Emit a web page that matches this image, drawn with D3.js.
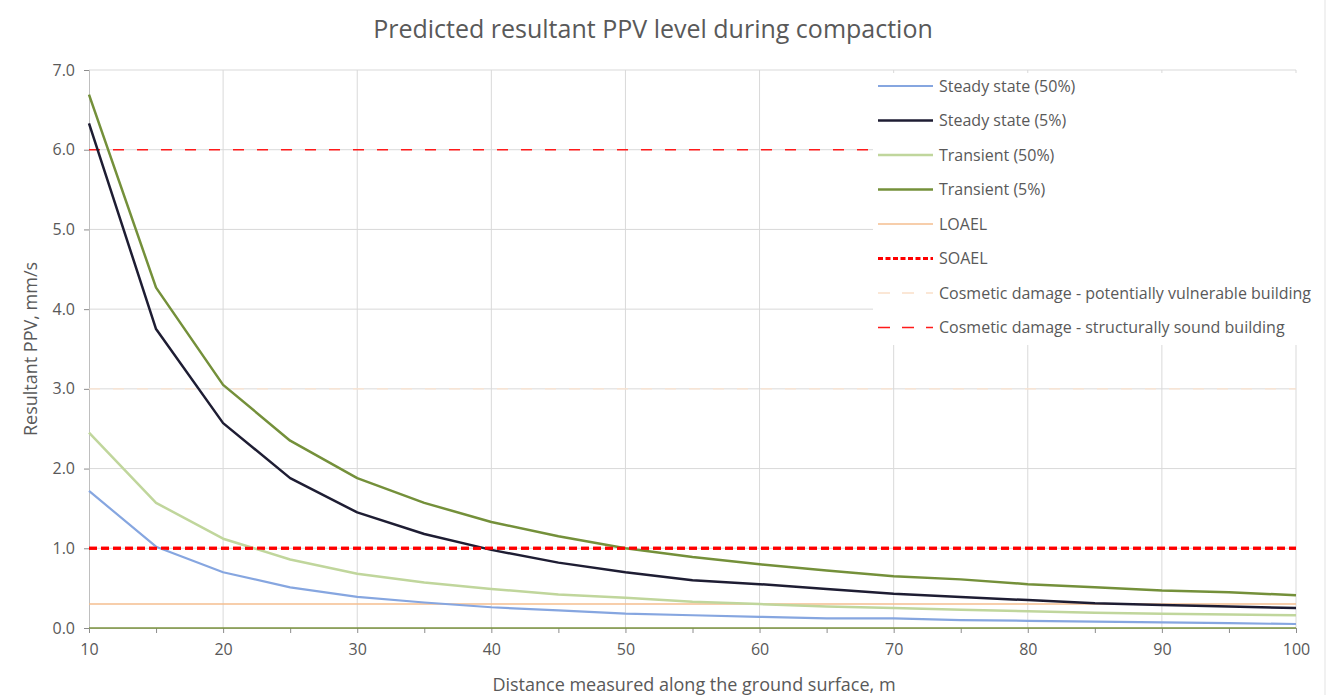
<!DOCTYPE html>
<html>
<head>
<meta charset="utf-8">
<script src="https://cdn.jsdelivr.net/npm/d3@7"></script>
<style>
  body { margin: 0; background: #fff; }
  text { font-family: "Open Sans", "Noto Sans", sans-serif; fill: #595959; }
</style>
</head>
<body>
<svg id="chart" width="1338" height="695"></svg>
<script>
// distances along the ground surface, m
var distances = [10, 15, 20, 25, 30, 35, 40, 45, 50, 55, 60, 65, 70, 75, 80, 85, 90, 95, 100]

var steady50 = [1.72, 1.02, 0.70, 0.51, 0.39, 0.32, 0.26, 0.22, 0.18, 0.16, 0.14, 0.12, 0.12, 0.10, 0.09, 0.08, 0.07, 0.06, 0.05]
var steady5 = [6.33, 3.75, 2.57, 1.88, 1.45, 1.18, 0.98, 0.82, 0.70, 0.60, 0.55, 0.49, 0.43, 0.39, 0.35, 0.31, 0.29, 0.27, 0.25]
var transient50 = [2.45, 1.57, 1.12, 0.86, 0.68, 0.57, 0.49, 0.42, 0.38, 0.33, 0.30, 0.27, 0.25, 0.23, 0.21, 0.19, 0.18, 0.17, 0.16]
var transient5 = [6.69, 4.27, 3.05, 2.35, 1.88, 1.57, 1.33, 1.15, 1.00, 0.89, 0.80, 0.72, 0.65, 0.61, 0.55, 0.51, 0.47, 0.45, 0.41]

// threshold levels, mm/s
var loael = 0.3
var soael = 1.0
var cosmeticVulnerable = 3.0
var cosmeticSound = 6.0

var xTicks = [10, 20, 30, 40, 50, 60, 70, 80, 90, 100]
var yTicks = [0, 1, 2, 3, 4, 5, 6, 7]

var series = [
    {name: "Steady state (50%)", values: steady50, color: "#86a6e0", width: 2.2, dash: null},
    {name: "Steady state (5%)", values: steady5, color: "#1e1d33", width: 2.5, dash: null},
    {name: "Transient (50%)", values: transient50, color: "#c0d69c", width: 2.5, dash: null},
    {name: "Transient (5%)", values: transient5, color: "#74903a", width: 2.5, dash: null},
    {name: "LOAEL", level: loael, color: "#f5be8f", width: 1.5, dash: null},
    {name: "SOAEL", level: soael, color: "#ff0000", width: 3, dash: "8,4"},
    {name: "Cosmetic damage - potentially vulnerable building", level: cosmeticVulnerable, color: "#fbe3cf", width: 1.2, dash: "11,13"},
    {name: "Cosmetic damage - structurally sound building", level: cosmeticSound, color: "#ff1a1a", width: 1.5, dash: "11,13"}
]

var svg = d3.select("#chart")
var margin = {left: 89, right: 42, top: 70, bottom: 67}
var width = 1338, height = 695

var x = d3.scaleLinear().domain([10, 100]).range([margin.left, width - margin.right])
var y = d3.scaleLinear().domain([0, 7]).range([height - margin.bottom, margin.top])

// outer border
svg.append("line")
    .attr("x1", 1325).attr("x2", 1325).attr("y1", 0).attr("y2", height)
    .attr("stroke", "#e3e3e3")

// gridlines
svg.append("g")
    .selectAll("line")
    .data(yTicks.slice(1))
    .enter().append("line")
    .attr("x1", x(10)).attr("x2", x(100))
    .attr("y1", d => y(d)).attr("y2", d => y(d))
    .attr("stroke", "#d9d9d9").attr("stroke-width", 1)

svg.append("g")
    .selectAll("line")
    .data(xTicks.slice(1))
    .enter().append("line")
    .attr("x1", d => x(d)).attr("x2", d => x(d))
    .attr("y1", y(0)).attr("y2", y(7))
    .attr("stroke", "#d9d9d9").attr("stroke-width", 1)

// axes
var xAxis = svg.append("g")
    .attr("transform", `translate(0, ${y(0)})`)
    .call(d3.axisBottom(x).tickValues(distances).tickSize(5).tickFormat(d => d % 10 == 0 ? d : ""))
xAxis.select(".domain").attr("stroke", "#bfbfbf")
xAxis.selectAll(".tick line").attr("stroke", "#8c8c8c")
xAxis.selectAll("text").attr("font-size", 16).attr("y", 13).attr("dy", "0.9em").style("fill", "#595959")

var yAxis = svg.append("g")
    .attr("transform", `translate(${x(10)}, 0)`)
    .call(d3.axisLeft(y).tickValues(yTicks).tickSize(5).tickFormat(d3.format(".1f")))
yAxis.select(".domain").attr("stroke", "#bfbfbf")
yAxis.selectAll(".tick line").attr("stroke", "#8c8c8c")
yAxis.selectAll("text").attr("font-size", 16).attr("x", -14).style("fill", "#595959")

var line = d3.line()
    .x((d, i) => x(distances[i]))
    .y(d => y(d))

// threshold lines, drawn first so the curves sit on top
var levels = series.filter(s => s.level != null)
svg.append("g")
    .selectAll("line")
    .data(levels)
    .enter().append("line")
    .attr("x1", x(10)).attr("x2", x(100))
    .attr("y1", d => y(d.level)).attr("y2", d => y(d.level))
    .attr("stroke", d => d.color)
    .attr("stroke-width", d => d.width)
    .attr("stroke-dasharray", d => d.dash)

// olive line along the x axis
svg.append("line")
    .attr("x1", x(10)).attr("x2", x(100))
    .attr("y1", y(0)).attr("y2", y(0))
    .attr("stroke", "#7d9440").attr("stroke-width", 1.5)

var curves = series.filter(s => s.values != null)
svg.append("g")
    .selectAll("path")
    .data(curves)
    .enter().append("path")
    .attr("d", d => line(d.values))
    .attr("fill", "none")
    .attr("stroke", d => d.color)
    .attr("stroke-width", d => d.width)
    .attr("stroke-linejoin", "round")

// SOAEL again on top like the original
svg.append("line")
    .attr("x1", x(10)).attr("x2", x(100))
    .attr("y1", y(soael)).attr("y2", y(soael))
    .attr("stroke", "#ff0000").attr("stroke-width", 3).attr("stroke-dasharray", "8,4")

// legend
var legend = svg.append("g")
legend.append("rect")
    .attr("x", 873).attr("y", 73).attr("width", 449).attr("height", 272)
    .attr("fill", "#fff")

var items = legend.selectAll("g")
    .data(series)
    .enter().append("g")
    .attr("transform", (d, i) => `translate(878, ${86 + i * 34.5})`)

items.append("line")
    .attr("x1", 0).attr("x2", 55)
    .attr("stroke", d => d.name.startsWith("Cosmetic damage - p") ? "#f8cfae" : d.color)
    .attr("stroke-width", d => d.width)
    .attr("stroke-dasharray", d => d.dash == "8,4" ? "5,2.5" : (d.dash ? "12,12" : null))

items.append("text")
    .attr("x", 61).attr("dy", "0.35em")
    .attr("font-size", 16)
    .text(d => d.name)

// titles
svg.append("text")
    .attr("x", 653).attr("y", 38)
    .attr("text-anchor", "middle")
    .attr("font-size", 25)
    .text("Predicted resultant PPV level during compaction")

svg.append("text")
    .attr("x", 694).attr("y", 691)
    .attr("text-anchor", "middle")
    .attr("font-size", 18)
    .text("Distance measured along the ground surface, m")

svg.append("text")
    .attr("transform", `translate(37, ${y(3.5)}) rotate(-90)`)
    .attr("text-anchor", "middle")
    .attr("font-size", 18)
    .text("Resultant PPV, mm/s")
</script>
</body>
</html>
